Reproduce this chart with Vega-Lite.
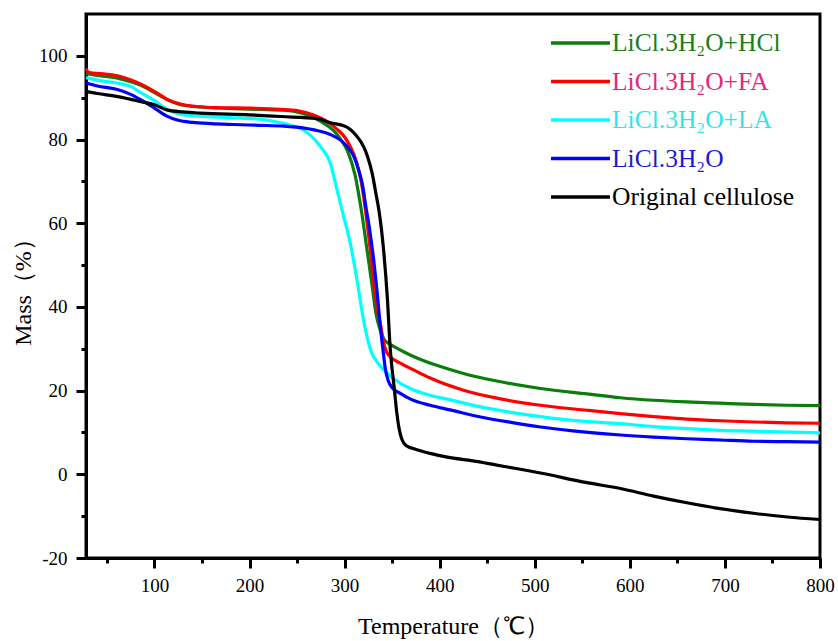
{
  "$schema": "https://vega.github.io/schema/vega-lite/v6.json",
  "width": 734,
  "height": 544,
  "autosize": {"type": "none"},
  "padding": {"left": 86, "top": 14, "right": 18, "bottom": 83},
  "background": "white",
  "config": {
    "view": {"stroke": "black", "strokeWidth": 3}
  },
  "datasets": {
    "tga": [
      {"sample": "LiCl.3H₂O+HCl", "T": 28, "m": 95.8},
      {"sample": "LiCl.3H₂O+HCl", "T": 40, "m": 95.3},
      {"sample": "LiCl.3H₂O+HCl", "T": 60, "m": 94.7},
      {"sample": "LiCl.3H₂O+HCl", "T": 75, "m": 93.8},
      {"sample": "LiCl.3H₂O+HCl", "T": 85, "m": 93.0},
      {"sample": "LiCl.3H₂O+HCl", "T": 100, "m": 91.2},
      {"sample": "LiCl.3H₂O+HCl", "T": 113, "m": 89.6},
      {"sample": "LiCl.3H₂O+HCl", "T": 125, "m": 88.5},
      {"sample": "LiCl.3H₂O+HCl", "T": 140, "m": 87.9},
      {"sample": "LiCl.3H₂O+HCl", "T": 160, "m": 87.6},
      {"sample": "LiCl.3H₂O+HCl", "T": 183, "m": 87.4},
      {"sample": "LiCl.3H₂O+HCl", "T": 210, "m": 87.2},
      {"sample": "LiCl.3H₂O+HCl", "T": 236, "m": 87.0},
      {"sample": "LiCl.3H₂O+HCl", "T": 255, "m": 86.3},
      {"sample": "LiCl.3H₂O+HCl", "T": 268, "m": 85.2},
      {"sample": "LiCl.3H₂O+HCl", "T": 280, "m": 83.6},
      {"sample": "LiCl.3H₂O+HCl", "T": 289, "m": 82.0},
      {"sample": "LiCl.3H₂O+HCl", "T": 296, "m": 80.0},
      {"sample": "LiCl.3H₂O+HCl", "T": 303, "m": 77.3},
      {"sample": "LiCl.3H₂O+HCl", "T": 311, "m": 71.5},
      {"sample": "LiCl.3H₂O+HCl", "T": 318, "m": 62.5},
      {"sample": "LiCl.3H₂O+HCl", "T": 324, "m": 53.0},
      {"sample": "LiCl.3H₂O+HCl", "T": 329, "m": 45.0},
      {"sample": "LiCl.3H₂O+HCl", "T": 333, "m": 38.4},
      {"sample": "LiCl.3H₂O+HCl", "T": 337, "m": 34.8},
      {"sample": "LiCl.3H₂O+HCl", "T": 341, "m": 32.4},
      {"sample": "LiCl.3H₂O+HCl", "T": 346, "m": 31.3},
      {"sample": "LiCl.3H₂O+HCl", "T": 352, "m": 30.5},
      {"sample": "LiCl.3H₂O+HCl", "T": 362, "m": 29.3},
      {"sample": "LiCl.3H₂O+HCl", "T": 373, "m": 28.1},
      {"sample": "LiCl.3H₂O+HCl", "T": 400, "m": 25.8},
      {"sample": "LiCl.3H₂O+HCl", "T": 425, "m": 24.1},
      {"sample": "LiCl.3H₂O+HCl", "T": 460, "m": 22.3},
      {"sample": "LiCl.3H₂O+HCl", "T": 506, "m": 20.5},
      {"sample": "LiCl.3H₂O+HCl", "T": 555, "m": 19.2},
      {"sample": "LiCl.3H₂O+HCl", "T": 590, "m": 18.3},
      {"sample": "LiCl.3H₂O+HCl", "T": 625, "m": 17.7},
      {"sample": "LiCl.3H₂O+HCl", "T": 660, "m": 17.3},
      {"sample": "LiCl.3H₂O+HCl", "T": 695, "m": 17.0},
      {"sample": "LiCl.3H₂O+HCl", "T": 730, "m": 16.7},
      {"sample": "LiCl.3H₂O+HCl", "T": 765, "m": 16.5},
      {"sample": "LiCl.3H₂O+HCl", "T": 800, "m": 16.4},

      {"sample": "LiCl.3H₂O+FA", "T": 28, "m": 97.0},
      {"sample": "LiCl.3H₂O+FA", "T": 31, "m": 96.0},
      {"sample": "LiCl.3H₂O+FA", "T": 50, "m": 95.6},
      {"sample": "LiCl.3H₂O+FA", "T": 65, "m": 95.0},
      {"sample": "LiCl.3H₂O+FA", "T": 80, "m": 93.8},
      {"sample": "LiCl.3H₂O+FA", "T": 92, "m": 92.5},
      {"sample": "LiCl.3H₂O+FA", "T": 105, "m": 90.8},
      {"sample": "LiCl.3H₂O+FA", "T": 115, "m": 89.4},
      {"sample": "LiCl.3H₂O+FA", "T": 127, "m": 88.5},
      {"sample": "LiCl.3H₂O+FA", "T": 145, "m": 87.9},
      {"sample": "LiCl.3H₂O+FA", "T": 170, "m": 87.6},
      {"sample": "LiCl.3H₂O+FA", "T": 200, "m": 87.5},
      {"sample": "LiCl.3H₂O+FA", "T": 233, "m": 87.2},
      {"sample": "LiCl.3H₂O+FA", "T": 250, "m": 86.9},
      {"sample": "LiCl.3H₂O+FA", "T": 268, "m": 85.8},
      {"sample": "LiCl.3H₂O+FA", "T": 280, "m": 84.5},
      {"sample": "LiCl.3H₂O+FA", "T": 292, "m": 82.5},
      {"sample": "LiCl.3H₂O+FA", "T": 300, "m": 80.6},
      {"sample": "LiCl.3H₂O+FA", "T": 306, "m": 78.3},
      {"sample": "LiCl.3H₂O+FA", "T": 312, "m": 75.0},
      {"sample": "LiCl.3H₂O+FA", "T": 317, "m": 70.5},
      {"sample": "LiCl.3H₂O+FA", "T": 322, "m": 63.0},
      {"sample": "LiCl.3H₂O+FA", "T": 327, "m": 53.6},
      {"sample": "LiCl.3H₂O+FA", "T": 331, "m": 45.0},
      {"sample": "LiCl.3H₂O+FA", "T": 334, "m": 40.0},
      {"sample": "LiCl.3H₂O+FA", "T": 338, "m": 35.5},
      {"sample": "LiCl.3H₂O+FA", "T": 341, "m": 31.5},
      {"sample": "LiCl.3H₂O+FA", "T": 344, "m": 29.3},
      {"sample": "LiCl.3H₂O+FA", "T": 348, "m": 28.1},
      {"sample": "LiCl.3H₂O+FA", "T": 360, "m": 26.4},
      {"sample": "LiCl.3H₂O+FA", "T": 373, "m": 24.9},
      {"sample": "LiCl.3H₂O+FA", "T": 390, "m": 23.0},
      {"sample": "LiCl.3H₂O+FA", "T": 425, "m": 20.1},
      {"sample": "LiCl.3H₂O+FA", "T": 460, "m": 18.2},
      {"sample": "LiCl.3H₂O+FA", "T": 506, "m": 16.5},
      {"sample": "LiCl.3H₂O+FA", "T": 555, "m": 15.3},
      {"sample": "LiCl.3H₂O+FA", "T": 590, "m": 14.5},
      {"sample": "LiCl.3H₂O+FA", "T": 625, "m": 13.8},
      {"sample": "LiCl.3H₂O+FA", "T": 660, "m": 13.2},
      {"sample": "LiCl.3H₂O+FA", "T": 695, "m": 12.8},
      {"sample": "LiCl.3H₂O+FA", "T": 730, "m": 12.5},
      {"sample": "LiCl.3H₂O+FA", "T": 765, "m": 12.3},
      {"sample": "LiCl.3H₂O+FA", "T": 800, "m": 12.2},

      {"sample": "LiCl.3H₂O+LA", "T": 28, "m": 94.8},
      {"sample": "LiCl.3H₂O+LA", "T": 40, "m": 94.2},
      {"sample": "LiCl.3H₂O+LA", "T": 60, "m": 93.5},
      {"sample": "LiCl.3H₂O+LA", "T": 75, "m": 92.7},
      {"sample": "LiCl.3H₂O+LA", "T": 85, "m": 91.3},
      {"sample": "LiCl.3H₂O+LA", "T": 100, "m": 89.3},
      {"sample": "LiCl.3H₂O+LA", "T": 113, "m": 87.2},
      {"sample": "LiCl.3H₂O+LA", "T": 125, "m": 86.2},
      {"sample": "LiCl.3H₂O+LA", "T": 140, "m": 85.7},
      {"sample": "LiCl.3H₂O+LA", "T": 160, "m": 85.4},
      {"sample": "LiCl.3H₂O+LA", "T": 183, "m": 85.2},
      {"sample": "LiCl.3H₂O+LA", "T": 210, "m": 84.9},
      {"sample": "LiCl.3H₂O+LA", "T": 233, "m": 84.0},
      {"sample": "LiCl.3H₂O+LA", "T": 245, "m": 83.3},
      {"sample": "LiCl.3H₂O+LA", "T": 254, "m": 82.6},
      {"sample": "LiCl.3H₂O+LA", "T": 265, "m": 80.8},
      {"sample": "LiCl.3H₂O+LA", "T": 275, "m": 78.2},
      {"sample": "LiCl.3H₂O+LA", "T": 285, "m": 74.3},
      {"sample": "LiCl.3H₂O+LA", "T": 292, "m": 68.0},
      {"sample": "LiCl.3H₂O+LA", "T": 299, "m": 61.6},
      {"sample": "LiCl.3H₂O+LA", "T": 306, "m": 55.2},
      {"sample": "LiCl.3H₂O+LA", "T": 313, "m": 46.5},
      {"sample": "LiCl.3H₂O+LA", "T": 320, "m": 36.8},
      {"sample": "LiCl.3H₂O+LA", "T": 325, "m": 31.5},
      {"sample": "LiCl.3H₂O+LA", "T": 329, "m": 28.8},
      {"sample": "LiCl.3H₂O+LA", "T": 335, "m": 26.6},
      {"sample": "LiCl.3H₂O+LA", "T": 341, "m": 25.0},
      {"sample": "LiCl.3H₂O+LA", "T": 352, "m": 22.8},
      {"sample": "LiCl.3H₂O+LA", "T": 370, "m": 20.4},
      {"sample": "LiCl.3H₂O+LA", "T": 390, "m": 18.9},
      {"sample": "LiCl.3H₂O+LA", "T": 411, "m": 17.8},
      {"sample": "LiCl.3H₂O+LA", "T": 443, "m": 16.1},
      {"sample": "LiCl.3H₂O+LA", "T": 475, "m": 14.8},
      {"sample": "LiCl.3H₂O+LA", "T": 506, "m": 13.8},
      {"sample": "LiCl.3H₂O+LA", "T": 540, "m": 12.9},
      {"sample": "LiCl.3H₂O+LA", "T": 590, "m": 12.1},
      {"sample": "LiCl.3H₂O+LA", "T": 625, "m": 11.4},
      {"sample": "LiCl.3H₂O+LA", "T": 660, "m": 10.9},
      {"sample": "LiCl.3H₂O+LA", "T": 695, "m": 10.5},
      {"sample": "LiCl.3H₂O+LA", "T": 730, "m": 10.3},
      {"sample": "LiCl.3H₂O+LA", "T": 765, "m": 10.1},
      {"sample": "LiCl.3H₂O+LA", "T": 800, "m": 9.9},

      {"sample": "LiCl.3H₂O", "T": 28, "m": 93.5},
      {"sample": "LiCl.3H₂O", "T": 40, "m": 92.8},
      {"sample": "LiCl.3H₂O", "T": 60, "m": 92.0},
      {"sample": "LiCl.3H₂O", "T": 75, "m": 90.8},
      {"sample": "LiCl.3H₂O", "T": 85, "m": 89.6},
      {"sample": "LiCl.3H₂O", "T": 100, "m": 87.5},
      {"sample": "LiCl.3H₂O", "T": 113, "m": 85.6},
      {"sample": "LiCl.3H₂O", "T": 125, "m": 84.6},
      {"sample": "LiCl.3H₂O", "T": 140, "m": 84.1},
      {"sample": "LiCl.3H₂O", "T": 160, "m": 83.8},
      {"sample": "LiCl.3H₂O", "T": 183, "m": 83.6},
      {"sample": "LiCl.3H₂O", "T": 210, "m": 83.4},
      {"sample": "LiCl.3H₂O", "T": 236, "m": 83.2},
      {"sample": "LiCl.3H₂O", "T": 268, "m": 82.3},
      {"sample": "LiCl.3H₂O", "T": 285, "m": 81.2},
      {"sample": "LiCl.3H₂O", "T": 296, "m": 79.8},
      {"sample": "LiCl.3H₂O", "T": 304, "m": 78.0},
      {"sample": "LiCl.3H₂O", "T": 310, "m": 75.8},
      {"sample": "LiCl.3H₂O", "T": 315, "m": 72.5},
      {"sample": "LiCl.3H₂O", "T": 319, "m": 69.0},
      {"sample": "LiCl.3H₂O", "T": 322, "m": 64.5},
      {"sample": "LiCl.3H₂O", "T": 326, "m": 59.0},
      {"sample": "LiCl.3H₂O", "T": 331, "m": 50.4},
      {"sample": "LiCl.3H₂O", "T": 334, "m": 44.0},
      {"sample": "LiCl.3H₂O", "T": 338, "m": 34.4},
      {"sample": "LiCl.3H₂O", "T": 341, "m": 28.5},
      {"sample": "LiCl.3H₂O", "T": 343, "m": 25.0},
      {"sample": "LiCl.3H₂O", "T": 346, "m": 22.3},
      {"sample": "LiCl.3H₂O", "T": 350, "m": 20.7},
      {"sample": "LiCl.3H₂O", "T": 359, "m": 19.3},
      {"sample": "LiCl.3H₂O", "T": 370, "m": 17.9},
      {"sample": "LiCl.3H₂O", "T": 390, "m": 16.5},
      {"sample": "LiCl.3H₂O", "T": 411, "m": 15.4},
      {"sample": "LiCl.3H₂O", "T": 443, "m": 13.7},
      {"sample": "LiCl.3H₂O", "T": 475, "m": 12.4},
      {"sample": "LiCl.3H₂O", "T": 506, "m": 11.3},
      {"sample": "LiCl.3H₂O", "T": 540, "m": 10.4},
      {"sample": "LiCl.3H₂O", "T": 590, "m": 9.4},
      {"sample": "LiCl.3H₂O", "T": 625, "m": 8.9},
      {"sample": "LiCl.3H₂O", "T": 660, "m": 8.5},
      {"sample": "LiCl.3H₂O", "T": 695, "m": 8.2},
      {"sample": "LiCl.3H₂O", "T": 730, "m": 7.9},
      {"sample": "LiCl.3H₂O", "T": 765, "m": 7.8},
      {"sample": "LiCl.3H₂O", "T": 800, "m": 7.7},

      {"sample": "Original cellulose", "T": 28, "m": 91.5},
      {"sample": "Original cellulose", "T": 40, "m": 91.0},
      {"sample": "Original cellulose", "T": 60, "m": 90.3},
      {"sample": "Original cellulose", "T": 85, "m": 89.1},
      {"sample": "Original cellulose", "T": 100, "m": 88.3},
      {"sample": "Original cellulose", "T": 113, "m": 87.1},
      {"sample": "Original cellulose", "T": 130, "m": 86.6},
      {"sample": "Original cellulose", "T": 148, "m": 86.3},
      {"sample": "Original cellulose", "T": 200, "m": 85.9},
      {"sample": "Original cellulose", "T": 233, "m": 85.5},
      {"sample": "Original cellulose", "T": 271, "m": 85.0},
      {"sample": "Original cellulose", "T": 285, "m": 84.0},
      {"sample": "Original cellulose", "T": 300, "m": 83.2},
      {"sample": "Original cellulose", "T": 306, "m": 82.4},
      {"sample": "Original cellulose", "T": 312, "m": 81.0},
      {"sample": "Original cellulose", "T": 320, "m": 78.3},
      {"sample": "Original cellulose", "T": 324, "m": 76.0},
      {"sample": "Original cellulose", "T": 329, "m": 71.9},
      {"sample": "Original cellulose", "T": 333, "m": 67.0},
      {"sample": "Original cellulose", "T": 336, "m": 63.2},
      {"sample": "Original cellulose", "T": 341, "m": 53.6},
      {"sample": "Original cellulose", "T": 345, "m": 42.0},
      {"sample": "Original cellulose", "T": 348, "m": 30.0},
      {"sample": "Original cellulose", "T": 350, "m": 25.0},
      {"sample": "Original cellulose", "T": 352, "m": 21.0},
      {"sample": "Original cellulose", "T": 355, "m": 14.5},
      {"sample": "Original cellulose", "T": 357, "m": 11.3},
      {"sample": "Original cellulose", "T": 360, "m": 8.5},
      {"sample": "Original cellulose", "T": 365, "m": 6.8},
      {"sample": "Original cellulose", "T": 373, "m": 6.1},
      {"sample": "Original cellulose", "T": 390, "m": 5.0},
      {"sample": "Original cellulose", "T": 408, "m": 4.1},
      {"sample": "Original cellulose", "T": 435, "m": 3.2},
      {"sample": "Original cellulose", "T": 460, "m": 2.2},
      {"sample": "Original cellulose", "T": 485, "m": 1.2},
      {"sample": "Original cellulose", "T": 506, "m": 0.3},
      {"sample": "Original cellulose", "T": 555, "m": -2.0},
      {"sample": "Original cellulose", "T": 590, "m": -3.4},
      {"sample": "Original cellulose", "T": 625, "m": -5.2},
      {"sample": "Original cellulose", "T": 660, "m": -6.8},
      {"sample": "Original cellulose", "T": 695, "m": -8.2},
      {"sample": "Original cellulose", "T": 730, "m": -9.3},
      {"sample": "Original cellulose", "T": 766, "m": -10.2},
      {"sample": "Original cellulose", "T": 800, "m": -10.8}
    ]
  },
  "data": {"name": "tga"},
  "resolve": {"axis": {"x": "independent", "y": "independent"}},
  "layer": [
    {
      "mark": {"type": "line", "strokeWidth": 3.2, "interpolate": "monotone"},
      "encoding": {
        "x": {
          "field": "T",
          "type": "quantitative",
          "scale": {"domain": [28, 800], "nice": false, "zero": false},
          "axis": {
            "orient": "bottom",
            "title": "Temperature（℃）",
            "values": [100, 200, 300, 400, 500, 600, 700, 800],
            "tickSize": 10,
            "tickWidth": 3,
            "tickColor": "black",
            "domainColor": "black",
            "domainWidth": 3,
            "grid": false,
            "labelFont": "Liberation Serif",
            "labelFontSize": 19,
            "labelColor": "black",
            "labelPadding": 8,
            "labelFlush": false,
            "titleFont": "Liberation Serif",
            "titleFontSize": 24,
            "titleFontWeight": "normal",
            "titleColor": "black",
            "titlePadding": 19
          }
        },
        "y": {
          "field": "m",
          "type": "quantitative",
          "scale": {"domain": [-20, 110], "nice": false, "zero": false},
          "axis": {
            "orient": "left",
            "title": "Mass（%）",
            "values": [-20, 0, 20, 40, 60, 80, 100],
            "labelExpr": "replace(datum.label, '−', '-')",
            "tickSize": 10,
            "tickWidth": 3,
            "tickColor": "black",
            "domainColor": "black",
            "domainWidth": 3,
            "grid": false,
            "labelFont": "Liberation Serif",
            "labelFontSize": 19,
            "labelColor": "black",
            "labelPadding": 9,
            "labelFlush": false,
            "titleFont": "Liberation Serif",
            "titleFontSize": 24,
            "titleFontWeight": "normal",
            "titleColor": "black",
            "titlePadding": 3
          }
        },
        "color": {
          "field": "sample",
          "type": "nominal",
          "scale": {
            "domain": ["LiCl.3H₂O+HCl", "LiCl.3H₂O+FA", "LiCl.3H₂O+LA", "LiCl.3H₂O", "Original cellulose"],
            "range": ["#0a7d0a", "#ff0000", "#00ffff", "#0000ff", "#000000"]
          },
          "legend": {
            "title": null,
            "orient": "none",
            "legendX": 463,
            "legendY": 14,
            "padding": 0,
            "symbolType": "stroke",
            "symbolSize": 3481,
            "symbolStrokeWidth": 3.5,
            "clipHeight": 30,
            "rowPadding": 8.5,
            "labelOffset": 0,
            "labelLimit": 400,
            "labelFont": "Liberation Serif",
            "labelFontSize": 25.5,
            "labelColor": {"expr": "['#1a7d1a', '#e6267e', '#2ee6e6', '#1a1ad0', '#000000'][datum.index]"}
          }
        }
      }
    },
    {
      "mark": {"type": "line", "strokeOpacity": 0},
      "encoding": {
        "x": {
          "field": "T",
          "type": "quantitative",
          "axis": {
            "orient": "bottom",
            "title": null,
            "values": [50, 150, 250, 350, 450, 550, 650, 750],
            "labels": false,
            "domain": false,
            "grid": false,
            "tickSize": 5,
            "tickWidth": 3,
            "tickColor": "black"
          }
        },
        "y": {
          "field": "m",
          "type": "quantitative",
          "axis": {
            "orient": "left",
            "title": null,
            "values": [-10, 10, 30, 50, 70, 90],
            "labels": false,
            "domain": false,
            "grid": false,
            "tickSize": 5,
            "tickWidth": 3,
            "tickColor": "black"
          }
        },
        "detail": {"field": "sample"}
      }
    }
  ]
}
